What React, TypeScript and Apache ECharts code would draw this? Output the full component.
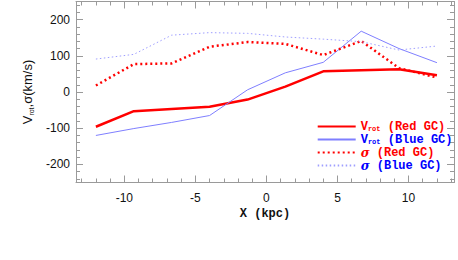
import React, { useEffect, useRef } from "react";
import * as echarts from "echarts";

const xKpc = [-12, -9.33, -6.67, -4, -1.33, 1.33, 4, 6.67, 9.33, 12];
const vrotRed = [-96, -53, -47, -41, -21, 15, 57, 60, 63, 46];
const vrotBlue = [-120, -101, -84, -65, 6, 53, 82, 168, 120, 81];
const sigmaRed = [18, 77, 79, 125, 138, 133, 102, 141, 66, 40];
const sigmaBlue = [91, 104, 157, 164, 162, 152, 146, 139, 116, 127];

const seriesNames = ["vrotRed", "vrotBlue", "sigmaRed", "sigmaBlue"];
const legendLabels = [
  "{v|V}{s|rot}{t| (Red GC)}",
  "{v|V}{s|rot}{t| (Blue GC)}",
  "{g|σ}{t| (Red GC)}",
  "{g|σ}{t| (Blue GC)}",
];

const AXIS_GREY = "#9a9a9a";
const MONO = "'Liberation Mono', 'DejaVu Sans Mono', monospace";
const SANS = "'Liberation Sans', Arial, sans-serif";

function pairs(ys: number[]) {
  return xKpc.map((x, i) => [x, ys[i]]);
}

export default function App() {
  const ref = useRef<HTMLDivElement>(null);
  useEffect(() => {
    if (!ref.current) return;
    const chart = echarts.init(ref.current, undefined, { renderer: "svg" });
    const baseAxis = {
      type: "value" as const,
      axisLine: { show: true, onZero: false, lineStyle: { color: AXIS_GREY, width: 1 } },
      axisTick: { show: true, inside: true, length: 7, lineStyle: { color: AXIS_GREY } },
      minorTick: { show: true, splitNumber: 5, length: 4, lineStyle: { color: AXIS_GREY } },
      splitLine: { show: false },
    };
    const labelStyle = {
      color: "#111",
      fontFamily: SANS,
      fontSize: 12,
      showMinLabel: false,
      showMaxLabel: false,
    };
    const legendColors = ["#ff0000", "#0000ff", "#ff0000", "#0000ff"];
    chart.setOption({
      animation: false,
      grid: { left: 76, right: 4, top: 1.5, bottom: 77.5, containLabel: false },
      xAxis: [
        {
          ...baseAxis,
          position: "bottom",
          min: -13.4,
          max: 13.2,
          splitNumber: 5,
          axisLabel: { ...labelStyle, margin: 9 },
          name: "X (kpc)",
          nameLocation: "middle",
          nameGap: 23,
          nameTextStyle: { fontFamily: MONO, fontWeight: "bold", fontSize: 12, color: "#111" },
        },
        {
          ...baseAxis,
          position: "top",
          min: -13.4,
          max: 13.2,
          splitNumber: 5,
          axisLabel: { show: false },
        },
      ],
      yAxis: [
        {
          ...baseAxis,
          position: "left",
          min: -250,
          max: 250,
          splitNumber: 5,
          axisLabel: { ...labelStyle, margin: 6 },
          name: "{v|V}{s|rot}{v|,σ(km/s)}",
          nameLocation: "middle",
          nameGap: 29,
          nameRotate: 90,
          nameTextStyle: {
            color: "#111",
            rich: {
              v: { fontFamily: SANS, fontSize: 13, color: "#111", lineHeight: 16 },
              s: { fontFamily: SANS, fontSize: 7, color: "#111", verticalAlign: "bottom", lineHeight: 16 },
            },
          },
        },
        {
          ...baseAxis,
          position: "right",
          min: -250,
          max: 250,
          splitNumber: 5,
          axisLabel: { show: false },
        },
      ],
      legend: {
        orient: "vertical",
        left: 311.7,
        top: 115.5,
        itemWidth: 38,
        itemHeight: 8,
        itemGap: 1,
        selectedMode: false,
        itemStyle: { opacity: 0 },
        data: seriesNames.map((n, i) => ({
          name: n,
          itemStyle: { opacity: 0 },
          textStyle: {
            color: legendColors[i],
            rich: {
              v: { fontFamily: MONO, fontWeight: "bold", fontSize: 12, color: legendColors[i], lineHeight: 12 },
              s: { fontFamily: MONO, fontWeight: "bold", fontSize: 7, color: legendColors[i], verticalAlign: "bottom", lineHeight: 12 },
              t: { fontFamily: MONO, fontWeight: "bold", fontSize: 12, color: legendColors[i], lineHeight: 12 },
              g: { fontFamily: "'DejaVu Serif', serif", fontStyle: "italic", fontWeight: "bold", fontSize: 12, color: legendColors[i], lineHeight: 12 },
            },
          },
        })),
        formatter: (name: string) => legendLabels[seriesNames.indexOf(name)],
        textStyle: { padding: [0, 0, 0, 0] },
      },
      series: [
        {
          name: "vrotRed",
          type: "line",
          data: pairs(vrotRed),
          symbol: "none",
          lineStyle: { color: "#ff0000", width: 2.5 },
          itemStyle: { color: "#ff0000" },
        },
        {
          name: "vrotBlue",
          type: "line",
          data: pairs(vrotBlue),
          symbol: "none",
          lineStyle: { color: "#7f7fff", width: 1 },
          itemStyle: { color: "#7f7fff" },
        },
        {
          name: "sigmaRed",
          type: "line",
          data: pairs(sigmaRed),
          symbol: "none",
          lineStyle: { color: "#ff0000", width: 2.5, type: [2, 3] },
          itemStyle: { color: "#ff0000" },
        },
        {
          name: "sigmaBlue",
          type: "line",
          data: pairs(sigmaBlue),
          symbol: "none",
          lineStyle: { color: "#9f9fff", width: 1, type: [1.5, 2.5] },
          itemStyle: { color: "#9f9fff" },
        },
      ],
    });
    return () => chart.dispose();
  }, []);
  return <div ref={ref} style={{ width: 458, height: 260, position: "absolute", left: 0, top: 0 }} />;
}
